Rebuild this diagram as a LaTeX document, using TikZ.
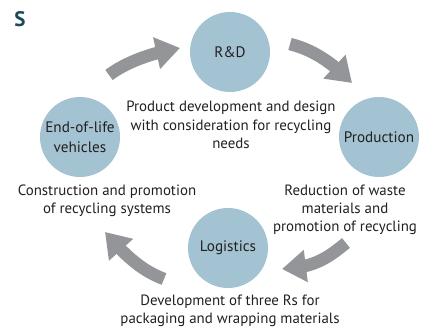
\documentclass[tikz,border=0pt]{standalone}
\usepackage{fontspec}
\setmainfont{PT Sans}
\usetikzlibrary{arrows.meta,bending}
\definecolor{circfill}{HTML}{A4C3D2}
\definecolor{arrowgrey}{HTML}{939598}
\definecolor{txt}{HTML}{231F20}
\definecolor{steal}{HTML}{1B4B5A}
\tikzset{
  stage/.style={circle, fill=circfill, minimum size=80pt, inner sep=0pt, text=txt, font=\fontsize{15.2}{20}\selectfont, align=center},
  desc/.style={text=txt, font=\fontsize{14.9}{18.3}\selectfont, align=center, inner sep=0pt},
  cyc/.style={draw=arrowgrey, line width=12.5pt, -{Triangle[width=31pt,length=24pt]}}
}
\begin{document}
\begin{tikzpicture}[x=1pt,y=-1pt]
\useasboundingbox (0,0) rectangle (421,329);
\node[font=\fontsize{21}{22}\selectfont\bfseries, text=steal, inner sep=0pt] (s) at (20,19) {S};
\node[stage] (rd) at (230,52) {R\&D};
\node[stage] (eol) at (80,137) {End-of-life\\vehicles};
\node[stage] (prod) at (379,137) {Production};
\node[stage] (log) at (228,248) {Logistics};
\node[desc] (drd) at (231,125) {Product development and design\\with consideration for recycling\\needs};
\node[desc] (deol) at (107,201) {Construction and promotion\\of recycling systems};
\node[desc] (dprod) at (345,210) {Reduction of waste\\materials and\\promotion of recycling};
\node[desc] (dlog) at (230,311) {Development of three Rs for\\packaging and wrapping materials};
\coordinate (a1s) at (109,75);
\coordinate (a1e) at (180,48);
\coordinate (a2s) at (290,44);
\coordinate (a2e) at (352,83);
\coordinate (a3s) at (346,243);
\coordinate (a3e) at (282,269);
\coordinate (a4s) at (164,279);
\coordinate (a4e) at (105,232);
\draw[cyc] (a1s) .. controls (125,63) and (150,53) .. (a1e);
\draw[cyc] (a2s) .. controls (310,49) and (330,60) .. (a2e);
\draw[cyc] (a3s) .. controls (330,256) and (315,268) .. (a3e);
\draw[cyc] (a4s) .. controls (148,273) and (130,262) .. (a4e);
\end{tikzpicture}
\end{document}
